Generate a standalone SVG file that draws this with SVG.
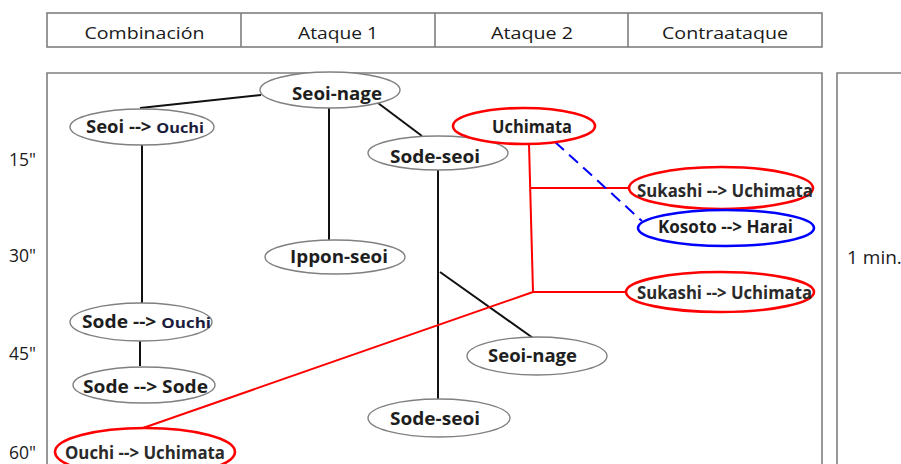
<svg xmlns="http://www.w3.org/2000/svg" width="901" height="464" viewBox="0 0 901 464">
<style>
.frame{fill:none;stroke:#7f7f7f;stroke-width:1.6}
.hdr{font-family:"Open Sans","Liberation Sans",sans-serif;font-size:16.5px;fill:#1a1a1a;text-anchor:middle}
.time{font-family:"Open Sans","Liberation Sans",sans-serif;font-size:17.5px;fill:#1a1a1a}
.n{fill:#fff;stroke:#808080;stroke-width:1.4}
.r{fill:#fff;stroke:#ff0000;stroke-width:2.6}
.b{fill:#fff;stroke:#0000ff;stroke-width:2.6}
.t{font-family:"Open Sans","Liberation Sans",sans-serif;font-size:17px;font-weight:bold;fill:#1e1e1e}
.tm{font-family:"Open Sans","Liberation Sans",sans-serif;font-size:17px;font-weight:bold;fill:#2a2a2a}
.o{font-size:15px;fill:#1c1c3c}
.cb{stroke:#111;stroke-width:2;fill:none}
.cr{stroke:#ff0000;stroke-width:2;fill:none}
.cd{stroke:#0000ff;stroke-width:2;fill:none;stroke-dasharray:12 7}
</style>
<rect width="901" height="464" fill="#fff"/>
<g id="header">
<rect class="frame" x="47" y="13" width="775" height="34"/>
<line class="frame" x1="241" y1="13" x2="241" y2="47"/>
<line class="frame" x1="435" y1="13" x2="435" y2="47"/>
<line class="frame" x1="628" y1="13" x2="628" y2="47"/>
<text class="hdr" x="144.5" y="39" textLength="120" lengthAdjust="spacingAndGlyphs">Combinación</text>
<text class="hdr" x="338" y="39" textLength="80" lengthAdjust="spacingAndGlyphs">Ataque 1</text>
<text class="hdr" x="532" y="39" textLength="82" lengthAdjust="spacingAndGlyphs">Ataque 2</text>
<text class="hdr" x="725" y="39" textLength="126" lengthAdjust="spacingAndGlyphs">Contraataque</text>
</g>
<g id="frames">
<path class="frame" d="M47,470 V73 H822 V470"/>
<path class="frame" d="M837,470 V73 H910"/>
<text class="time" x="9" y="166">15"</text>
<text class="time" x="9" y="262">30"</text>
<text class="time" x="9" y="360">45"</text>
<text class="time" x="9" y="459">60"</text>
<text x="847" y="264" font-family="Open Sans, Liberation Sans, sans-serif" font-size="19" fill="#1a1a1a">1 min.</text>
</g>
<g id="connectors">
<path class="cb" d="M261,95 L140,108"/>
<path class="cb" d="M329,108 L329,240"/>
<path class="cb" d="M378,103 L422,136"/>
<path class="cb" d="M142,145 L142,303"/>
<path class="cb" d="M140,341 L140,366"/>
<path class="cb" d="M438,170 L438,399"/>
<path class="cb" d="M440,272 L533,338"/>
<path class="cr" d="M529,144 L533,292"/>
<path class="cr" d="M530,188 L629,188"/>
<path class="cr" d="M533,292 L626,292"/>
<path class="cr" d="M533,292 L143,428"/>
<path class="cd" d="M555,142 L642,221"/>
</g>
<g id="n1"><ellipse class="n" cx="330" cy="90" rx="70" ry="18"/><text class="t" x="292" y="100" textLength="90" lengthAdjust="spacingAndGlyphs">Seoi-nage</text></g>
<g id="n2"><ellipse class="n" cx="142" cy="127" rx="72" ry="18"/><text class="t" x="86" y="133" textLength="118" lengthAdjust="spacingAndGlyphs">Seoi --&gt; <tspan class="o">Ouchi</tspan></text></g>
<g id="n3"><ellipse class="n" cx="438" cy="153" rx="70" ry="17"/><text class="t" x="390" y="163" textLength="90" lengthAdjust="spacingAndGlyphs">Sode-seoi</text></g>
<g id="n4"><ellipse class="r" cx="524" cy="126" rx="71" ry="18"/><text class="t" x="492" y="133" textLength="80" lengthAdjust="spacingAndGlyphs">Uchimata</text></g>
<g id="n5"><ellipse class="r" cx="721" cy="188" rx="92" ry="21"/><text class="tm" x="637" y="197" textLength="176" lengthAdjust="spacingAndGlyphs">Sukashi --&gt; Uchimata</text></g>
<g id="n6"><ellipse class="b" cx="726" cy="228" rx="88" ry="18"/><text class="t" x="658" y="233" textLength="135" lengthAdjust="spacingAndGlyphs">Kosoto --&gt; Harai</text></g>
<g id="n7"><ellipse class="n" cx="335" cy="257" rx="70" ry="17"/><text class="t" x="290" y="263" textLength="98" lengthAdjust="spacingAndGlyphs">Ippon-seoi</text></g>
<g id="n8"><ellipse class="r" cx="720" cy="292" rx="94" ry="20"/><text class="tm" x="637" y="299" textLength="175" lengthAdjust="spacingAndGlyphs">Sukashi --&gt; Uchimata</text></g>
<g id="n9"><ellipse class="n" cx="141" cy="322" rx="71" ry="19"/><text class="t" x="82" y="328" textLength="129" lengthAdjust="spacingAndGlyphs">Sode --&gt; <tspan class="o">Ouchi</tspan></text></g>
<g id="n10"><ellipse class="n" cx="144" cy="385" rx="71" ry="18"/><text class="t" x="83" y="393" textLength="125" lengthAdjust="spacingAndGlyphs">Sode --&gt; Sode</text></g>
<g id="n11"><ellipse class="n" cx="537" cy="356" rx="70" ry="19"/><text class="t" x="488" y="362" textLength="89" lengthAdjust="spacingAndGlyphs">Seoi-nage</text></g>
<g id="n12"><ellipse class="n" cx="439" cy="418" rx="71" ry="19"/><text class="t" x="390" y="425" textLength="90" lengthAdjust="spacingAndGlyphs">Sode-seoi</text></g>
<g id="n13"><ellipse class="r" cx="145" cy="452" rx="90" ry="24"/><text class="tm" x="65" y="459" textLength="160" lengthAdjust="spacingAndGlyphs">Ouchi --&gt; Uchimata</text></g>
</svg>
